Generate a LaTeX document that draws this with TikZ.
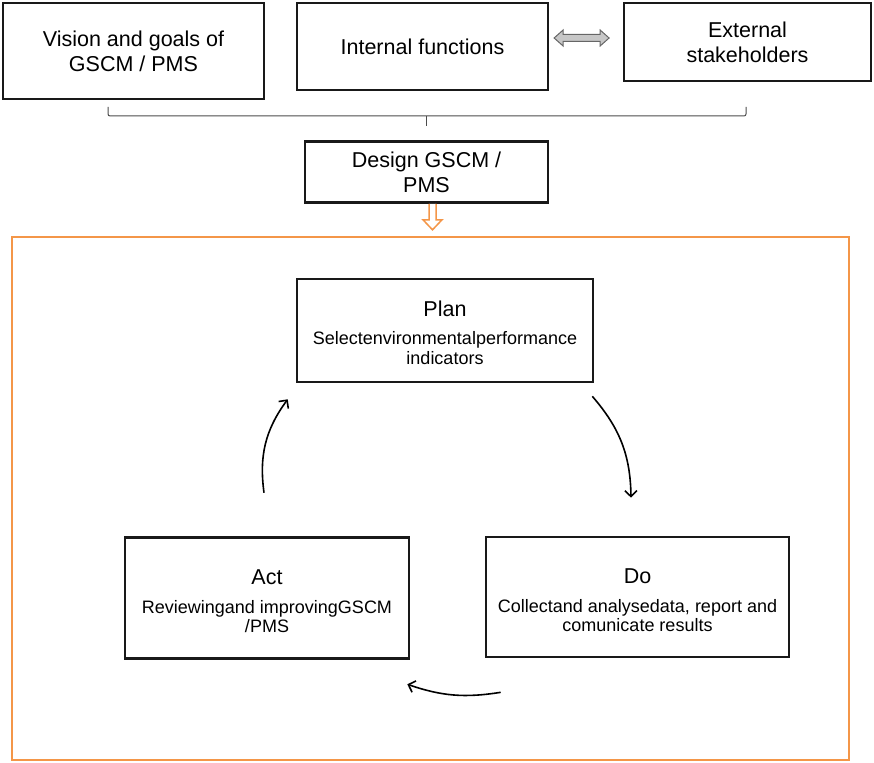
\documentclass[tikz,border=0pt]{standalone}
\usepackage{fontspec}
\setmainfont{Liberation Sans}
\usetikzlibrary{calc}
\usetikzlibrary{arrows.meta}
\definecolor{frameorange}{RGB}{244,150,72}
\newcommand{\bigtxt}{\fontsize{21.5}{25}\selectfont}
\newcommand{\smalltxt}{\fontsize{18}{19.5}\selectfont}
\tikzset{topbox/.style={draw=black!90,line width=2.6pt,align=center,inner sep=0pt,font=\bigtxt}}
\tikzset{pdca/.style={draw=black!90,line width=2.6pt,align=center,inner sep=0pt,font=\smalltxt}}
\tikzset{turn/.style={-{Straight Barb[length=6pt,width=12pt]},line width=1.6pt}}

\begin{document}
\begin{tikzpicture}[x=1pt,y=-1pt]
            \useasboundingbox (0,0) rectangle (874,762);
            \node [topbox,minimum width=261,minimum height=96] (vg) at (133.5,51) {Vision and goals of\\GSCM / PMS};
            \node [topbox,minimum width=251,minimum height=87] (intf) at (422.5,46.5) {Internal functions};
            \node [topbox,minimum width=247,minimum height=78] (ext) at (747.5,42) {External\\stakeholders};
            \node [topbox,minimum width=243,minimum height=61] (dsg) at (426.5,172) {Design GSCM /\\PMS};
            \node [draw=frameorange,line width=2.2pt,minimum width=837,minimum height=523] (frame) at (430.5,498.5) {};
            \node [pdca,minimum width=296,minimum height=103] (plan) at (445,330.5) {\rule{0pt}{19.5pt}{\bigtxt Plan}\\[9pt]Selectenvironmentalperformance\\indicators};
            \node [pdca,minimum width=284,minimum height=121] (act) at (267,598) {\rule{0pt}{21.5pt}{\bigtxt Act}\\[9pt]Reviewingand improvingGSCM\\/PMS};
            \node [pdca,minimum width=303,minimum height=120] (do) at (637.5,597) {\rule{0pt}{21.5pt}{\bigtxt Do}\\[9pt]Collectand analysedata, report and\\comunicate results};
            % two-way link between the top boxes
            \coordinate (lk) at ($(intf.east)!0.44!(ext.west)$);
            \draw[shift={(lk|-0,38)},draw=black!60,fill=black!22,line width=1pt,line join=miter]
                (-27.5,0) -- (-18.5,-8) -- (-18.5,-3.5) -- (18.5,-3.5) -- (18.5,-8) -- (27.5,0)
                -- (18.5,8) -- (18.5,3.5) -- (-18.5,3.5) -- (-18.5,8) -- cycle;
            % bracket under the top row
            \coordinate (bl) at (108,107);
            \coordinate (br) at (746,107);
            \coordinate (bm) at (426,116);
            \coordinate (bt) at (426,126);
            \draw[black!70,line width=1pt,rounded corners=2pt] (bl) |- (bm) -| (br);
            \draw[black!70,line width=1pt] (bm) -- (bt);
            % hollow arrow into the frame
            \coordinate (dn) at ($(dsg.south)+(6,0)$);
            \draw[shift={(dn)},draw=frameorange,fill=white,line width=1.5pt,line join=miter]
                (-3.5,0) -- (-3.5,16) -- (-9.5,16) -- (0,26) -- (9.5,16) -- (3.5,16) -- (3.5,0);
            % cycle arrows
            \coordinate (a1) at ($(act.north)+(-3,-43.5)$);
            \coordinate (a2) at ($(plan.south west)+(-8,16)$);
            \coordinate (p1) at ($(plan.south east)+(-2,13)$);
            \coordinate (p2) at ($(do.north)+(-6.5,-38)$);
            \coordinate (d1) at ($(do.south west)+(16,34)$);
            \coordinate (d2) at ($(act.south east)+(-3,24.5)$);
            \draw[turn] (a1) to[bend left=22] (a2);
            \draw[turn] (p1) to[bend left=20] (p2);
            \draw[turn] (d1) to[bend left=14] (d2);
        \end{tikzpicture}
\end{document}
